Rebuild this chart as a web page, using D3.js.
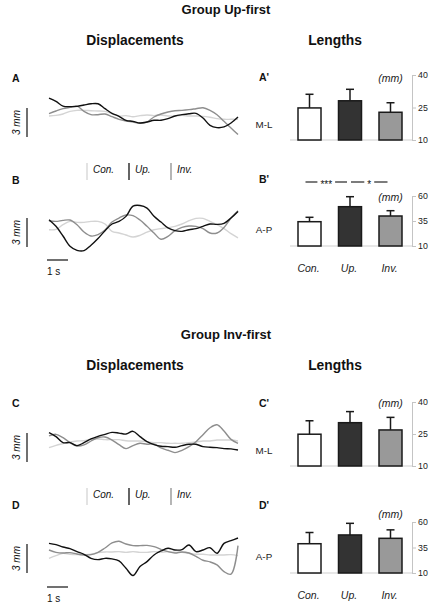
<!DOCTYPE html>
<html><head><meta charset="utf-8">
<script src="https://cdn.jsdelivr.net/npm/d3@7"></script>
<style>body{margin:0;background:#fff}svg{display:block}</style>
</head><body><svg id="c" width="430" height="606"></svg>
<script>
// ---------- DATA ----------
const categories = ["Con.", "Up.", "Inv."];
const groupTitles = ["Group Up-first", "Group Inv-first"];
const columnTitles = ["Displacements", "Lengths"];
const axisNames = ["M-L", "A-P"];
const unitLabel = "(mm)";
const panelLetters = ["A", "B", "C", "D"];
const timeStep = 1 / 3; // seconds between samples
const scaleBarMm = 3;
const scaleBarSec = 1;

// displacement traces (mm)
const dispA_con = [0.10,0.17,0.31,0.58,0.69,0.69,0.65,0.62,0.58,0.34,0.10,0.14,0.03,0.14,0.21,0.14,0.21,0.10,0.10,0.17,0.10,0.10,0.07,-0.03,-0.17,-0.24,-0.24,-0.24];
const dispA_up  = [1.96,1.62,1.13,1.07,1.10,1.24,1.37,1.37,0.86,0.38,0.07,-0.34,-0.45,-0.62,-0.52,-0.34,-0.34,-0.17,0.10,0.24,0.34,0.38,-0.10,-0.86,-1.10,-1.03,-0.62,0.00];
const dispA_inv = [0.34,0.62,0.86,1.00,1.13,0.58,0.24,0.24,0.31,0.03,-0.24,-0.41,-0.52,-0.65,-0.52,0.00,0.31,0.52,0.65,0.69,0.76,0.86,0.96,0.69,0.24,-0.45,-1.13,-1.82];

const dispB_con = [0.03,0.07,0.55,0.89,0.79,0.79,0.89,0.89,0.62,-0.14,-0.31,-0.52,-0.72,-0.55,-0.21,0.03,0.14,0.24,0.38,0.62,0.96,1.20,1.20,0.89,0.55,0.14,-0.38,-0.82];
const dispB_up  = [1.07,0.38,-0.62,-1.68,-2.10,-2.13,-1.58,-0.89,-0.07,0.62,0.89,1.41,2.47,2.54,2.27,1.41,0.82,0.21,-0.07,-0.14,0.03,0.14,0.38,0.62,0.58,0.69,1.24,1.92];
const dispB_inv = [0.96,0.89,1.00,1.03,0.55,-0.21,-0.62,-0.48,0.00,0.82,1.24,1.55,1.48,1.03,0.38,-0.31,-0.96,-0.65,-0.07,0.27,0.41,0.38,0.14,-0.31,-0.31,0.27,1.24,1.99];

const dispC_con = [-0.69,-0.45,-0.27,-0.10,0.00,0.03,0.17,0.21,0.14,0.14,0.14,0.03,0.00,0.00,-0.07,-0.17,-0.17,-0.24,-0.24,-0.24,-0.17,-0.10,0.00,0.00,0.10,0.10,0.10,0.00];
const dispC_up  = [0.86,0.45,-0.17,-0.17,-0.48,-0.17,0.21,0.48,0.69,0.89,0.82,0.72,1.00,0.45,-0.07,-0.38,-0.55,-0.58,-0.65,-0.48,-0.34,-0.34,-0.58,-0.65,-0.69,-0.79,-0.82,-0.93];
const dispC_inv = [0.52,0.69,0.34,-0.17,-0.52,-0.41,0.00,0.34,0.41,0.10,-0.38,-0.79,-0.48,-0.24,-0.34,-0.31,-0.72,-0.96,-1.20,-0.96,-0.58,-0.07,0.65,1.37,1.68,1.03,0.17,-0.24];

const dispD_con = [-0.52,-0.24,0.00,-0.10,-0.14,-0.14,-0.10,0.07,0.14,0.14,0.17,0.10,0.17,0.10,0.10,0.17,0.10,0.17,0.10,0.10,0.00,-0.10,-0.10,-0.17,-0.17,-0.17,-0.14,-0.24];
const dispD_up  = [1.03,0.89,0.65,0.48,0.17,-0.10,-0.52,-0.65,-0.52,-0.58,-0.79,-1.55,-2.30,-1.37,-0.86,-0.17,0.24,0.52,0.34,0.38,0.86,0.17,0.34,0.58,0.00,1.03,1.31,1.58];
const dispD_inv = [0.34,0.10,0.03,0.07,-0.07,-0.17,-0.14,0.10,0.55,1.07,1.24,0.96,0.79,0.79,0.82,0.69,0.41,0.17,0.03,0.14,0.03,-0.31,-0.72,-0.89,-1.20,-1.89,-2.16,0.79];

// lengths (mm): bar mean and top of error bar
const lenA_mean  = [24.8, 28.1, 22.8];
const lenA_upper = [31.1, 33.4, 27.2];
const lenB_mean  = [34.3, 49.3, 40.0];
const lenB_upper = [38.7, 59.3, 45.3];
const lenC_mean  = [24.9, 30.3, 26.9];
const lenC_upper = [31.2, 35.5, 32.8];
const lenD_mean  = [38.7, 47.3, 44.0];
const lenD_upper = [49.7, 58.7, 52.3];

const mlTicks = [10, 25, 40];
const apTicks = [10, 35, 60];
const sigB = [{from: "Con.", to: "Up.", label: "***"}, {from: "Up.", to: "Inv.", label: "*"}];

// ---------- STYLE / LAYOUT ----------
const FONT = "Arial, 'Liberation Sans', Helvetica, sans-serif";
const lineColor = {"Con.": "#d4d4d4", "Up.": "#111111", "Inv.": "#8e8e8e"};
const barFill = {"Con.": "#ffffff", "Up.": "#333333", "Inv.": "#999999"};
const pxPerMm = 29 / 3;
const svg = d3.select("#c");

function txt(x, y, s, o = {}) {
  const t = svg.append("text").attr("x", x).attr("y", y).text(s)
    .attr("font-family", FONT).attr("font-size", o.size || 10)
    .attr("font-weight", o.bold ? "bold" : "normal")
    .attr("font-style", o.italic ? "italic" : "normal")
    .attr("fill", o.fill || "#111")
    .attr("text-anchor", o.anchor || "start");
  if (o.rotate) t.attr("transform", `rotate(${o.rotate},${x},${y})`);
  return t;
}

const xTime = d3.scaleLinear().domain([0, 9]).range([49, 238]);

function drawTrace(p) {
  const y = d3.scaleLinear().domain([-1, 1]).range([p.cy + pxPerMm, p.cy - pxPerMm]);
  const line = d3.line().x((d, i) => xTime(i * timeStep)).y(d => y(d)).curve(d3.curveCatmullRom.alpha(0.5));
  const series = [["Con.", p.con], ["Inv.", p.inv], ["Up.", p.up]];
  series.forEach(([k, vals]) => {
    svg.append("path").datum(vals).attr("d", line).attr("fill", "none")
      .attr("stroke", lineColor[k]).attr("stroke-width", 1.4).attr("stroke-linejoin", "round");
  });
  // vertical scale bar (3 mm)
  const h = scaleBarMm * pxPerMm;
  svg.append("line").attr("x1", 27).attr("x2", 27).attr("y1", p.barCy - h / 2).attr("y2", p.barCy + h / 2)
    .attr("stroke", "#111").attr("stroke-width", 1.2);
  txt(20, p.barCy, scaleBarMm + " mm", {italic: true, size: 10, anchor: "middle", rotate: -90});
  txt(12, p.labelY, p.letter, {bold: true, size: 10.5});
  if (p.timeBarY) {
    svg.append("line").attr("x1", xTime(0) - 2).attr("x2", xTime(scaleBarSec) - 2)
      .attr("y1", p.timeBarY).attr("y2", p.timeBarY).attr("stroke", "#111").attr("stroke-width", 1.2);
    txt(xTime(0) - 2, p.timeBarY + 15, scaleBarSec + " s", {size: 10});
  }
}

function drawLegend(y0, y1) {
  const lx = d3.scalePoint().domain(categories).range([87, 171]);
  categories.forEach(c => {
    svg.append("line").attr("x1", lx(c)).attr("x2", lx(c)).attr("y1", y0).attr("y2", y1)
      .attr("stroke", lineColor[c]).attr("stroke-width", 1.3);
    txt(lx(c) + 6, y0 + 10, c, {italic: true, size: 10});
  });
}

function drawBars(p) {
  const x = d3.scalePoint().domain(categories).range([309.5, 390.5]);
  const y = d3.scaleLinear().domain([p.ticks[0], p.ticks[p.ticks.length - 1]]).range([p.bottom, p.top]);
  const bw = 23;
  svg.append("line").attr("x1", 290).attr("x2", 412).attr("y1", y(p.ticks[0])).attr("y2", y(p.ticks[0]))
    .attr("stroke", "#cfcfcf").attr("stroke-width", 1);
  const ax = svg.append("g").attr("transform", "translate(412,0)")
    .call(d3.axisRight(y).tickValues(p.ticks).tickSize(4).tickSizeOuter(0).tickPadding(2));
  ax.select(".domain").attr("stroke", "#c4c4c4");
  ax.selectAll(".tick line").attr("stroke", "#c4c4c4");
  ax.selectAll(".tick text").attr("font-family", FONT).attr("font-size", 8.8).attr("fill", "#222");
  categories.forEach((c, i) => {
    const cx = x(c);
    svg.append("line").attr("x1", cx).attr("x2", cx).attr("y1", y(p.mean[i])).attr("y2", y(p.upper[i]))
      .attr("stroke", "#1a1a1a").attr("stroke-width", 1.5);
    svg.append("line").attr("x1", cx - 4).attr("x2", cx + 4).attr("y1", y(p.upper[i])).attr("y2", y(p.upper[i]))
      .attr("stroke", "#1a1a1a").attr("stroke-width", 1.5);
    svg.append("rect").attr("x", cx - bw / 2).attr("y", y(p.mean[i])).attr("width", bw)
      .attr("height", y(p.ticks[0]) - y(p.mean[i])).attr("fill", barFill[c])
      .attr("stroke", "#1a1a1a").attr("stroke-width", 1.5);
  });
  txt(390.5, p.unitY, unitLabel, {italic: true, size: 10.5, anchor: "middle", fill: "#222"});
  txt(264, p.nameY, p.name, {size: 9.8, anchor: "middle", fill: "#222"});
  txt(259, p.labelY, p.letter + "'", {bold: true, size: 10.5});
  if (p.catY) categories.forEach(c => txt(x(c) - 1, p.catY, c, {italic: true, size: 10.5, anchor: "middle", fill: "#222"}));
  if (p.sig) {
    p.sig.forEach((s, i) => {
      const left = i === 0 ? x(s.from) - 4 : x(s.from) + 1;
      const right = x(s.to) - 3;
      const mid = (left + right) / 2;
      const t = txt(mid, p.sigY + 5.5, s.label, {size: 10, anchor: "middle"});
      const w = t.node().getComputedTextLength();
      [[left, mid - w / 2 - 3], [mid + w / 2 + 3, right]].forEach(([a, b]) =>
        svg.append("line").attr("x1", a).attr("x2", b).attr("y1", p.sigY).attr("y2", p.sigY)
          .attr("stroke", "#111").attr("stroke-width", 1.1));
    });
  }
}

// ---------- GROUPS ----------
[0, 1].forEach(g => {
  const off = g === 0 ? 0 : 325;
  txt(226, 14 + off, groupTitles[g], {bold: true, size: 13, anchor: "middle"});
  txt(135, 45 + off, columnTitles[0], {bold: true, size: 13.8, anchor: "middle"});
  txt(335, 45 + off, columnTitles[1], {bold: true, size: 13.8, anchor: "middle"});
  drawLegend(163 + off, 180 + off);
});

drawTrace({letter: "A", labelY: 82, cy: 117, barCy: 122.5, con: dispA_con, up: dispA_up, inv: dispA_inv});
drawTrace({letter: "B", labelY: 184, cy: 230, barCy: 232.5, con: dispB_con, up: dispB_up, inv: dispB_inv, timeBarY: 260});
drawTrace({letter: "C", labelY: 407, cy: 441, barCy: 447.5, con: dispC_con, up: dispC_up, inv: dispC_inv});
drawTrace({letter: "D", labelY: 509, cy: 553.3, barCy: 558.5, con: dispD_con, up: dispD_up, inv: dispD_inv, timeBarY: 587});

drawBars({letter: "A", labelY: 81, ticks: mlTicks, top: 75, bottom: 140, mean: lenA_mean, upper: lenA_upper, unitY: 82, name: axisNames[0], nameY: 128});
drawBars({letter: "B", labelY: 183, ticks: apTicks, top: 196, bottom: 246, mean: lenB_mean, upper: lenB_upper, unitY: 201, name: axisNames[1], nameY: 233, catY: 272, sig: sigB, sigY: 182});
drawBars({letter: "C", labelY: 407, ticks: mlTicks, top: 402, bottom: 466, mean: lenC_mean, upper: lenC_upper, unitY: 407, name: axisNames[0], nameY: 454});
drawBars({letter: "D", labelY: 509, ticks: apTicks, top: 522, bottom: 573, mean: lenD_mean, upper: lenD_upper, unitY: 518, name: axisNames[1], nameY: 560, catY: 599});
</script></body></html>
